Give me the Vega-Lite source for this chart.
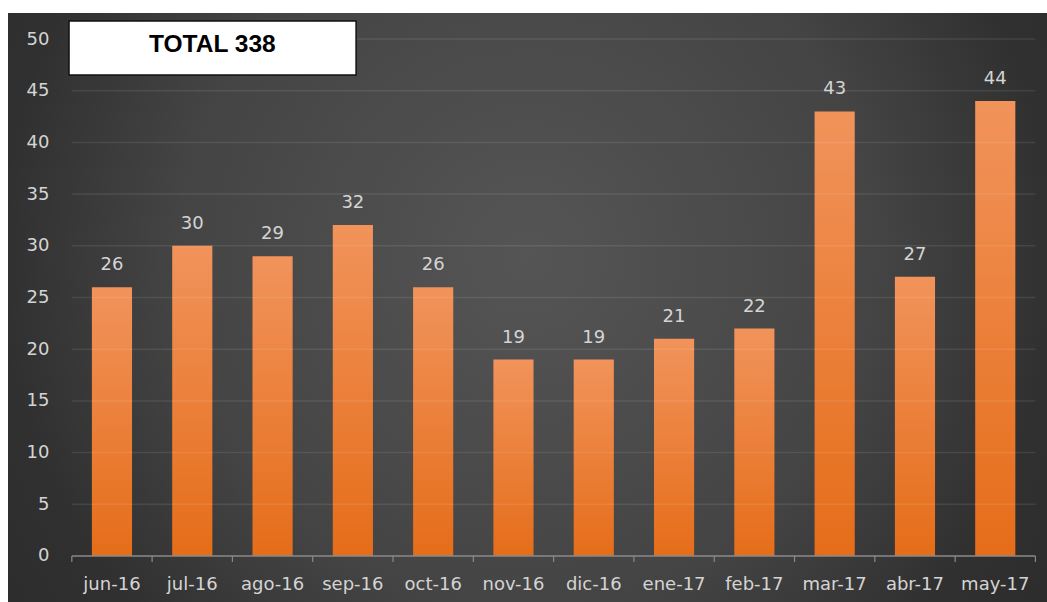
{
  "$schema": "https://vega.github.io/schema/vega-lite/v6.json",
  "width": 1039,
  "height": 589,
  "autosize": {"type": "none"},
  "padding": {"left": 8, "top": 13, "right": 0, "bottom": 0},
  "background": "#ffffff",
  "config": {
    "view": {
      "stroke": null,
      "fill": {"gradient": "radial", "x1": 0.5, "y1": 0.45, "r1": 0, "x2": 0.5, "y2": 0.45, "r2": 0.75,
        "stops": [{"offset": 0, "color": "#555555"}, {"offset": 0.45, "color": "#444444"}, {"offset": 0.68, "color": "#303030"}, {"offset": 1, "color": "#272727"}]}
    },
    "axis": {"labelFont": "DejaVu Sans", "labelFontSize": 18, "labelColor": "#d4d4d4", "grid": false, "domain": false, "ticks": false, "title": null}
  },
  "datasets": {
    "months": [
      {"month": "jun-16", "value": 26},
      {"month": "jul-16", "value": 30},
      {"month": "ago-16", "value": 29},
      {"month": "sep-16", "value": 32},
      {"month": "oct-16", "value": 26},
      {"month": "nov-16", "value": 19},
      {"month": "dic-16", "value": 19},
      {"month": "ene-17", "value": 21},
      {"month": "feb-17", "value": 22},
      {"month": "mar-17", "value": 43},
      {"month": "abr-17", "value": 27},
      {"month": "may-17", "value": 44}
    ],
    "grid": [{"g": 0}, {"g": 5}, {"g": 10}, {"g": 15}, {"g": 20}, {"g": 25}, {"g": 30}, {"g": 35}, {"g": 40}, {"g": 45}, {"g": 50}],
    "total": [{"label": "TOTAL 338"}]
  },
  "layer": [
    {
      "data": {"name": "months"},
      "mark": {"type": "bar", "fill": {"gradient": "linear", "x1": 0, "y1": 0, "x2": 0, "y2": 1, "stops": [{"offset": 0, "color": "#f1935b"}, {"offset": 1, "color": "#e56d19"}]}},
      "encoding": {
        "x": {"field": "month", "type": "nominal", "sort": null,
          "scale": {"domain": ["jun-16", "jul-16", "ago-16", "sep-16", "oct-16", "nov-16", "dic-16", "ene-17", "feb-17", "mar-17", "abr-17", "may-17"], "paddingInner": 0.5, "paddingOuter": 0.7196, "align": 0.726},
          "axis": {"orient": "bottom", "offset": -46, "labelPadding": 19, "labelAngle": 0}},
        "y": {"field": "value", "type": "quantitative",
          "scale": {"domain": [-4.449, 52.515], "nice": false, "zero": false},
          "axis": {"orient": "left", "offset": -64, "labelPadding": 23, "values": [0, 5, 10, 15, 20, 25, 30, 35, 40, 45, 50], "labelBaseline": "middle"}},
        "y2": {"datum": 0}
      }
    },
    {
      "data": {"name": "grid"},
      "transform": [{"filter": "datum.g > 0"}],
      "mark": {"type": "rule", "stroke": "#ffffff", "strokeOpacity": 0.09, "strokeWidth": 1.5},
      "encoding": {
        "y": {"field": "g", "type": "quantitative"},
        "x": {"datum": "jun-16", "bandPosition": -0.5},
        "x2": {"datum": "may-17", "bandPosition": 1.5}
      }
    },
    {
      "data": {"name": "grid"},
      "transform": [{"filter": "datum.g === 0"}],
      "mark": {"type": "rule", "stroke": "#8a8a8a", "strokeWidth": 1.5},
      "encoding": {
        "y": {"field": "g", "type": "quantitative"},
        "x": {"datum": "jun-16", "bandPosition": -0.5},
        "x2": {"datum": "may-17", "bandPosition": 1.5}
      }
    },
    {
      "data": {"name": "months"},
      "mark": {"type": "rule", "stroke": "#8a8a8a", "strokeWidth": 1.2},
      "encoding": {
        "x": {"field": "month", "type": "nominal", "bandPosition": -0.5},
        "y": {"datum": 0},
        "y2": {"datum": -0.58}
      }
    },
    {
      "data": {"name": "months"},
      "transform": [{"filter": "datum.month === 'may-17'"}],
      "mark": {"type": "rule", "stroke": "#8a8a8a", "strokeWidth": 1.2},
      "encoding": {
        "x": {"field": "month", "type": "nominal", "bandPosition": 1.5},
        "y": {"datum": 0},
        "y2": {"datum": -0.58}
      }
    },
    {
      "data": {"name": "months"},
      "mark": {"type": "text", "font": "DejaVu Sans", "fontSize": 18, "fill": "#d4d4d4", "baseline": "alphabetic", "dy": -17},
      "encoding": {
        "x": {"field": "month", "type": "nominal"},
        "y": {"field": "value", "type": "quantitative"},
        "text": {"field": "value", "type": "quantitative"}
      }
    },
    {
      "data": {"name": "total"},
      "mark": {"type": "rect", "fill": "#ffffff", "stroke": "#111111", "strokeWidth": 1.5},
      "encoding": {
        "x": {"datum": "jun-16", "bandPosition": -0.57},
        "x2": {"datum": "sep-16", "bandPosition": 0.58},
        "y": {"datum": 51.74},
        "y2": {"datum": 46.52}
      }
    },
    {
      "data": {"name": "total"},
      "mark": {"type": "text", "font": "Liberation Sans", "fontWeight": "bold", "fontSize": 24.5, "fill": "#000000", "baseline": "middle", "align": "center"},
      "encoding": {
        "x": {"datum": "jul-16", "bandPosition": 1.0},
        "y": {"datum": 49.45},
        "text": {"field": "label", "type": "nominal"}
      }
    }
  ]
}
